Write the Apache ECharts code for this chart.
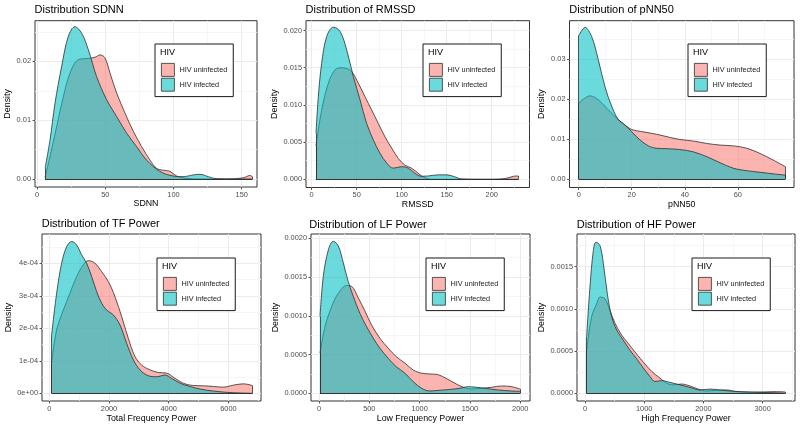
<!DOCTYPE html>
<html><head><meta charset="utf-8">
<script src="https://cdn.jsdelivr.net/npm/echarts@6/dist/echarts.min.js"></script>
<style>html,body{margin:0;padding:0;background:#fff}#c{width:800px;height:428px}</style>
</head><body><div id="c"></div>
<script>
const FONT = '"Liberation Sans", Arial, Helvetica, sans-serif';
const groupNames = ['HIV uninfected', 'HIV infected'];
const panelTitles = ['Distribution SDNN', 'Distribution of RMSSD', 'Distribution of pNN50',
  'Distribution of TF Power', 'Distribution of LF Power', 'Distribution of HF Power'];
const xTitles = ['SDNN', 'RMSSD', 'pNN50', 'Total Frequency Power', 'Low Frequency Power', 'High Frequency Power'];
const xTicks = [[0, 50, 100, 150], [0, 50, 100, 150, 200], [0, 20, 40, 60],
  [0, 2000, 4000, 6000], [0, 500, 1000, 1500, 2000], [0, 1000, 2000, 3000]];
const yTicks = [[0, 0.01, 0.02], [0, 0.005, 0.01, 0.015, 0.02], [0, 0.01, 0.02, 0.03],
  [0, 1e-4, 2e-4, 3e-4, 4e-4], [0, 0.0005, 0.001, 0.0015, 0.002], [0, 0.0005, 0.001, 0.0015]];
const yTickLabels = [['0.00', '0.01', '0.02'], ['0.000', '0.005', '0.010', '0.015', '0.020'],
  ['0.00', '0.01', '0.02', '0.03'], ['0e+00', '1e-04', '2e-04', '3e-04', '4e-04'],
  ['0.0000', '0.0005', '0.0010', '0.0015', '0.0020'], ['0.0000', '0.0005', '0.0010', '0.0015']];

const sdnnUninfected = [[5.9,0.0003],[9.5,0.0038],[14.4,0.0089],[19.3,0.014],[24.2,0.018],[30.3,0.0203],[37.6,0.0205],[42.5,0.0207],[46.2,0.0211],[49.8,0.0206],[53.5,0.018],[58.4,0.0146],[64.5,0.0112],[70.6,0.0081],[76.7,0.0055],[82.8,0.0032],[87.7,0.0018],[92.6,0.0015],[97.5,0.0013],[102.3,0.0005],[109.7,0.0001],[120,0],[140,0],[151.2,0.0002],[156,0.0006],[157.8,0.0004]];
const sdnnInfected = [[5.9,0.0018],[9.5,0.0066],[13.2,0.0129],[18.1,0.0192],[23,0.0243],[27.8,0.0259],[32.7,0.0248],[37.6,0.022],[43.7,0.0174],[51,0.0135],[58.4,0.0106],[65.7,0.0078],[73,0.0055],[80.4,0.0032],[90,0.0013],[100,0.0005],[107,0.0004],[114.6,0.0007],[119.4,0.0008],[125.5,0.0004],[131.7,0.00005],[144,0],[157.8,0]];
const rmssdUninfected = [[4.8,0.0045],[11.1,0.0093],[18.5,0.0129],[25.9,0.0147],[33,0.015],[38.9,0.0149],[44.4,0.0145],[51.9,0.0129],[59.3,0.0111],[66.7,0.0093],[74.1,0.0075],[81.5,0.0057],[88.9,0.0042],[96.3,0.0028],[103.7,0.0019],[111.1,0.0015],[118.5,0.0008],[125.9,0.0002],[133.3,0],[200,0],[214.8,0.0001],[224,0.0004],[229.6,0.00045]];
const rmssdInfected = [[4.8,0.0062],[7.4,0.0111],[11.1,0.0156],[16.7,0.0192],[24.1,0.02045],[31.5,0.0199],[38.9,0.0174],[46.3,0.0138],[53.7,0.0107],[61.1,0.0075],[68.5,0.0053],[75.9,0.0035],[83.3,0.0022],[90.7,0.0015],[100,0.0017],[107.4,0.0015],[114.8,0.0008],[122.2,0.0004],[129.6,0.00045],[140.7,0.0006],[150,0.0006],[157.4,0.0004],[166.7,0.00005],[188.9,0],[229.6,0]];
const pnn50Uninfected = [[0,0.0189],[4.3,0.0208],[7.4,0.0198],[10.6,0.0177],[13.7,0.0156],[17.5,0.0135],[20,0.0124],[24.4,0.0118],[29.4,0.0112],[34.5,0.0104],[38.2,0.0099],[43.3,0.0095],[48.3,0.0089],[53.3,0.0085],[58.4,0.0083],[63.4,0.0077],[68.4,0.0064],[73.5,0.0047],[77.9,0.0031]];
const pnn50Infected = [[0,0.0358],[2.4,0.0379],[4.9,0.0356],[7.4,0.0298],[9.9,0.0231],[12.5,0.0181],[15,0.0148],[17.5,0.0135],[20,0.0118],[23.1,0.0098],[26.3,0.0083],[29.4,0.0077],[33.2,0.0076],[38,0.0074],[43.3,0.0068],[48.3,0.0056],[53.3,0.0041],[58.4,0.0027],[63.4,0.0021],[68.4,0.0017],[73.5,0.0013],[77.9,0.001]];
const tfUninfected = [[78,0.97e-4],[246,1.95e-4],[469,2.56e-4],[692,3.08e-4],[916,3.59e-4],[1139,3.95e-4],[1307,4.08e-4],[1530,4.0e-4],[1754,3.74e-4],[1977,3.44e-4],[2200,2.97e-4],[2424,2.36e-4],[2647,1.69e-4],[2871,1.13e-4],[3094,0.87e-4],[3373,0.72e-4],[3653,0.64e-4],[3932,0.62e-4],[4211,0.46e-4],[4490,0.31e-4],[4825,0.24e-4],[5161,0.23e-4],[5496,0.21e-4],[5831,0.19e-4],[6166,0.25e-4],[6501,0.29e-4],[6802,0.24e-4]];
const tfInfected = [[78,1.79e-4],[246,3.08e-4],[413,4.0e-4],[581,4.51e-4],[748,4.67e-4],[916,4.56e-4],[1083,4.26e-4],[1251,4.0e-4],[1419,3.59e-4],[1586,3.13e-4],[1754,2.77e-4],[1921,2.56e-4],[2145,2.41e-4],[2368,2.1e-4],[2591,1.54e-4],[2815,1.03e-4],[3038,0.72e-4],[3317,0.54e-4],[3597,0.51e-4],[3876,0.56e-4],[4099,0.46e-4],[4379,0.31e-4],[4714,0.21e-4],[5049,0.13e-4],[5496,0.07e-4],[5942,0.03e-4],[6389,0.01e-4],[6802,0]];
const lfUninfected = [[10,0.00052],[60,0.00086],[126,0.00112],[192,0.00129],[275,0.00139],[324,0.00138],[391,0.00123],[457,0.00106],[523,0.00088],[606,0.00071],[689,0.00058],[771,0.00047],[854,0.00039],[937,0.0003],[1020,0.00026],[1103,0.00025],[1185,0.00024],[1268,0.00019],[1351,0.00013],[1434,0.000078],[1516,0.000056],[1616,0.000065],[1715,0.000078],[1814,0.000095],[1914,0.000086],[1997,0.000056]];
const lfInfected = [[10,0.00099],[43,0.00151],[93,0.00185],[142,0.00196],[192,0.0019],[242,0.00168],[291,0.00144],[341,0.00125],[407,0.00103],[473,0.00086],[540,0.00071],[606,0.00058],[689,0.00045],[771,0.00034],[854,0.00026],[937,0.00015],[1020,0.000065],[1103,0.00003],[1202,0.00004],[1301,0.00005],[1400,0.000065],[1483,0.000086],[1550,0.00008],[1649,0.000065],[1781,0.000043],[1914,0.00003],[1997,0.000026]];
const hfUninfected = [[28,0.00051],[113,0.00091],[197,0.00106],[253,0.00114],[338,0.00112],[422,0.00098],[507,0.00083],[619,0.00069],[732,0.00059],[844,0.00049],[985,0.00037],[1126,0.00026],[1266,0.00018],[1379,0.00012],[1491,0.0001],[1632,0.00011],[1773,0.000087],[1913,0.00005],[2054,0.000028],[2223,0.000035],[2392,0.00004],[2561,0.00002],[2786,0.000012],[3011,0.000016],[3236,0.00002],[3382,0.000016]];
const hfInfected = [[28,0.00067],[84,0.00126],[141,0.00169],[186,0.00179],[253,0.00175],[310,0.00154],[377,0.00118],[450,0.00091],[535,0.00075],[647,0.00063],[760,0.00051],[872,0.00041],[985,0.0003],[1097,0.0002],[1182,0.00014],[1294,0.00015],[1435,0.00013],[1604,0.0001],[1773,0.00007],[1942,0.00004],[2111,0.00005],[2279,0.00004],[2504,0.000024],[2786,0.000016],[3123,0.000008],[3382,0.000004]];

const densities = [[sdnnUninfected, sdnnInfected], [rmssdUninfected, rmssdInfected], [pnn50Uninfected, pnn50Infected],
  [tfUninfected, tfInfected], [lfUninfected, lfInfected], [hfUninfected, hfInfected]];

// layout (pixels) and axis extents
const layout = [
  {left: 35, right: 257, top: 20.7, bottom: 187, xMin: -1.47, xMax: 161.2, yMin: -0.00136, yMax: 0.02692, yGap: 15.8, xGap: 11, tx: 34.5, ty: 3.5, lx: 155, ly: 44},
  {left: 306, right: 529.5, top: 20.7, bottom: 187.5, xMin: -6.3, xMax: 242, yMin: -0.0011, yMax: 0.02132, yGap: 23.8, xGap: 11, tx: 305.5, ty: 3.5, lx: 423, ly: 44},
  {left: 569.5, right: 794, top: 20.7, bottom: 187.5, xMin: -3.47, xMax: 81.2, yMin: -0.0021, yMax: 0.03958, yGap: 22.6, xGap: 11, tx: 569.3, ty: 3.5, lx: 688, ly: 44},
  {left: 42, right: 261, top: 234, bottom: 401, xMin: -245, xMax: 7092, yMin: -2.37e-5, yMax: 4.90e-4, yGap: 26.5, xGap: 13, tx: 41.7, ty: 217.5, lx: 157, ly: 258},
  {left: 311, right: 530, top: 234, bottom: 401, xMin: -79.5, xMax: 2097, yMin: -9.9e-5, yMax: 2.055e-3, yGap: 28.3, xGap: 13, tx: 309.3, ty: 218, lx: 426, ly: 258},
  {left: 577, right: 795, top: 234, bottom: 401, xMin: -135, xMax: 3547, yMin: -9.1e-5, yMax: 1.887e-3, yGap: 29, xGap: 13, tx: 576.7, ty: 218, lx: 692, ly: 258}
];

const OUTLINE = '#2f2f2f';
const fills = ['rgba(248,118,109,0.55)', 'rgba(0,191,196,0.58)'];
const legendFills = ['rgba(248,118,109,0.55)', 'rgba(0,191,196,0.58)'];

function minorTicks(t, lo, hi) {
  const step = t[1] - t[0];
  const out = [t[0] - step / 2].concat(t.map(v => v + step / 2));
  return out.filter(v => v > lo && v < hi);
}
function closestLabel(v, ticks, labels) {
  let best = 0;
  ticks.forEach((t, k) => { if (Math.abs(t - v) < Math.abs(ticks[best] - v)) best = k; });
  return labels[best];
}

const option = {
  animation: false, backgroundColor: '#ffffff',
  textStyle: {fontFamily: FONT},
  title: [], legend: [], grid: [], xAxis: [], yAxis: [], series: []
};

layout.forEach((L, i) => {
  option.grid.push({left: L.left, top: L.top, width: L.right - L.left, height: L.bottom - L.top,
    show: true, borderColor: '#333333', borderWidth: 1, backgroundColor: '#ffffff'});
  const xt = xTicks[i], yt = yTicks[i];
  const axisLine = {show: false, onZero: false};
  const tickStyle = {show: true, inside: false, length: 2.5, lineStyle: {color: '#333333', width: 0.8}};
  option.xAxis.push({type: 'value', gridIndex: i, position: 'bottom', min: L.xMin, max: L.xMax, axisLine,
    name: xTitles[i], nameLocation: 'middle', nameGap: L.xGap,
    nameTextStyle: {fontFamily: FONT, fontSize: 8.8, color: '#000', lineHeight: 10},
    axisTick: Object.assign({customValues: xt}, tickStyle),
    axisLabel: {customValues: xt, margin: 4, fontSize: 7.4, color: '#4d4d4d', fontFamily: FONT,
      formatter: v => String(Math.round(v))},
    splitLine: {show: true, lineStyle: {color: '#ebebeb', width: 1}}});
  option.xAxis.push({type: 'value', gridIndex: i, position: 'top', min: L.xMin, max: L.xMax, axisLine,
    axisTick: {show: false, customValues: minorTicks(xt, L.xMin, L.xMax)},
    axisLabel: {show: false, customValues: minorTicks(xt, L.xMin, L.xMax)},
    splitLine: {show: true, lineStyle: {color: '#f4f4f4', width: 0.8}}});
  option.yAxis.push({type: 'value', gridIndex: i, position: 'left', min: L.yMin, max: L.yMax, axisLine,
    name: 'Density', nameLocation: 'middle', nameGap: L.yGap, nameRotate: 90,
    nameTextStyle: {fontFamily: FONT, fontSize: 8.9, color: '#000', lineHeight: 10},
    axisTick: Object.assign({customValues: yt}, tickStyle),
    axisLabel: {customValues: yt, margin: 4, fontSize: 7.4, color: '#4d4d4d', fontFamily: FONT,
      formatter: v => closestLabel(v, yt, yTickLabels[i])},
    splitLine: {show: true, lineStyle: {color: '#ebebeb', width: 1}}});
  option.yAxis.push({type: 'value', gridIndex: i, position: 'right', min: L.yMin, max: L.yMax, axisLine,
    axisTick: {show: false, customValues: minorTicks(yt, L.yMin, L.yMax)},
    axisLabel: {show: false, customValues: minorTicks(yt, L.yMin, L.yMax)},
    splitLine: {show: true, lineStyle: {color: '#f4f4f4', width: 0.8}}});

  option.title.push({text: panelTitles[i], left: L.tx, top: L.ty, padding: 0,
    textStyle: {fontFamily: FONT, fontSize: 11, fontWeight: 'normal', color: '#000', lineHeight: 13}});
  option.title.push({text: 'HIV', left: L.lx + 5, top: L.ly + 3.5, padding: 0,
    textStyle: {fontFamily: FONT, fontSize: 9, fontWeight: 'normal', color: '#000', lineHeight: 11}});
  option.legend.push({left: L.lx, top: L.ly, orient: 'vertical', padding: [19, 6, 5, 6],
    borderColor: '#1a1a1a', borderWidth: 1, backgroundColor: '#fff',
    itemWidth: 13, itemHeight: 13, itemGap: 1, selectedMode: false,
    textStyle: {fontFamily: FONT, fontSize: 7.3, color: '#1a1a1a'},
    data: groupNames.map((n, g) => ({name: n, icon: 'rect',
      itemStyle: {color: legendFills[g], borderColor: OUTLINE, borderWidth: 0.8}}))});

  groupNames.forEach((name, g) => {
    const d = densities[i][g];
    const first = d[0], last = d[d.length - 1];
    option.series.push({
      type: 'line', name, xAxisIndex: 2 * i, yAxisIndex: 2 * i, data: d,
      smooth: 0.35, showSymbol: false, symbol: 'none', silent: true,
      lineStyle: {color: OUTLINE, width: 0.8},
      itemStyle: {color: fills[g]},
      areaStyle: {color: fills[g], opacity: 1},
      z: 2 + g,
      markLine: {silent: true, symbol: ['none', 'none'], label: {show: false}, animation: false,
        lineStyle: {color: OUTLINE, width: 0.8, type: 'solid'},
        emphasis: {disabled: true},
        data: [
          [{coord: [first[0], 0]}, {coord: [first[0], first[1]]}],
          [{coord: [last[0], 0]}, {coord: [last[0], last[1]]}],
          [{coord: [first[0], 0]}, {coord: [last[0], 0]}]
        ]}
    });
  });
});

const chart = echarts.init(document.getElementById('c'), null, {renderer: 'canvas'});
chart.setOption(option);
</script>
</body></html>
